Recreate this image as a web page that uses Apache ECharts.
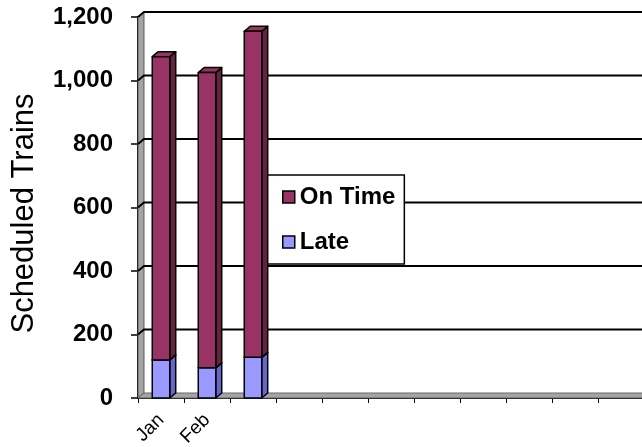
<!DOCTYPE html>
<html><head><meta charset="utf-8">
<script src="https://cdn.jsdelivr.net/npm/echarts@6/dist/echarts.min.js"></script>
<style>html,body{margin:0;padding:0;background:#fff}#c{width:642px;height:447px}</style>
</head><body><div id="c"></div>
<script>
const categories = ['Jan','Feb','','','','','','','','','',''];
const lateValues = [120, 95, 128];
const onTimeValues = [955, 930, 1027];
const yTicks = [0, 200, 400, 600, 800, 1000, 1200];
const seriesNames = ['On Time', 'Late'];

const FONT = '"Liberation Sans", Arial, sans-serif';
const yMax = yTicks[yTicks.length - 1];
const yStep = yTicks[1] - yTicks[0];

function renderWalls(params, api) {
  const cs = params.coordSys;
  const band = api.size([1, 0])[0];
  const dx = band * 0.13, dy = 5;
  const x0 = cs.x, x1 = cs.x + cs.width;
  const yBot = api.coord([0, 0])[1], yTop = api.coord([0, yMax])[1];
  const children = [];
  children.push({type: 'polygon', shape: {points: [[x0, yBot], [x0, yTop], [x0 + dx, yTop - dy], [x0 + dx, yBot - dy]]},
    style: {fill: '#a4a4a4', stroke: '#555', lineWidth: 1}});
  children.push({type: 'polygon', shape: {points: [[x0, yBot], [x0 + dx, yBot - dy], [x1 + dx, yBot - dy], [x1, yBot]]},
    style: {fill: '#a4a4a4', stroke: '#666', lineWidth: 1}});
  yTicks.forEach(function (v) {
    if (v === 0) return;
    const y = api.coord([0, v])[1];
    children.push({type: 'polyline', shape: {points: [[x0, y], [x0 + dx, y - dy], [x1 + dx, y - dy]]},
      style: {fill: null, stroke: '#000', lineWidth: 2}});
  });
  return {type: 'group', children: children};
}

function makeBarRenderer(front, side, top) {
  return function (params, api) {
    const i = api.value(0), b = api.value(1), t = api.value(2);
    const band = api.size([1, 0])[0];
    const w = band * 0.38, d = band * 0.13, dy = 5;
    const c = api.coord([i, b]), c2 = api.coord([i, t]);
    const xl = c[0] - w / 2, xr = c[0] + w / 2, y0 = c[1], y1 = c2[1];
    const st = {stroke: '#000', lineWidth: 1.5, lineJoin: 'round'};
    return {type: 'group', children: [
      {type: 'polygon', shape: {points: [[xr, y1], [xr + d, y1 - dy], [xr + d, y0 - dy], [xr, y0]]}, style: Object.assign({fill: side}, st)},
      {type: 'polygon', shape: {points: [[xl, y1], [xl + d, y1 - dy], [xr + d, y1 - dy], [xr, y1]]}, style: Object.assign({fill: top}, st)},
      {type: 'rect', shape: {x: xl, y: y1, width: w, height: y0 - y1}, style: Object.assign({fill: front}, st)}
    ]};
  };
}

const lateData = lateValues.map(function (v, i) { return [i, 0, v]; });
const onTimeData = onTimeValues.map(function (v, i) { return [i, lateValues[i], lateValues[i] + v]; });

const chart = echarts.init(document.getElementById('c'), null, {renderer: 'canvas'});
chart.setOption({
  animation: false,
  backgroundColor: '#fff',
  textStyle: {fontFamily: FONT},
  grid: {left: 138, top: 17, bottom: 49, width: 552, containLabel: false, outerBoundsMode: 'none'},
  xAxis: {
    type: 'category', data: categories, boundaryGap: true,
    axisLine: {show: true, lineStyle: {color: '#000', width: 2}},
    axisTick: {show: true, length: 5, interval: 0, lineStyle: {color: '#000', width: 1}},
    axisLabel: {interval: 0, rotate: 45, fontSize: 19, color: '#000', fontFamily: FONT, margin: 19},
    splitLine: {show: false}
  },
  yAxis: {
    type: 'value', min: 0, max: yMax, interval: yStep,
    name: 'Scheduled Trains', nameLocation: 'middle', nameGap: 98,
    nameTextStyle: {fontSize: 31, color: '#000', fontFamily: FONT, padding: [0, 12, 0, 0]},
    axisLine: {show: true, lineStyle: {color: '#000', width: 2}},
    axisTick: {show: true, length: 7, lineStyle: {color: '#000', width: 1.5}},
    axisLabel: {fontSize: 24, fontWeight: 'bold', color: '#000', fontFamily: FONT, margin: 25,
      formatter: function (v) { return v.toLocaleString('en-US'); }},
    splitLine: {show: false}
  },
  legend: {
    orient: 'vertical', left: 264, top: 175,
    padding: [10, 9, 10, 18], itemGap: 21, itemWidth: 12, itemHeight: 12,
    backgroundColor: '#fff', borderColor: '#000', borderWidth: 1.5, borderRadius: 0,
    textStyle: {fontSize: 24, fontWeight: 'bold', color: '#000', fontFamily: FONT},
    icon: 'rect',
    data: [
      {name: seriesNames[0], itemStyle: {color: '#993366', borderColor: '#000', borderWidth: 1.5}},
      {name: seriesNames[1], itemStyle: {color: '#9999ff', borderColor: '#000', borderWidth: 1.5}}
    ]
  },
  series: [
    {type: 'custom', name: 'walls', silent: true, z: 1, data: [[0, 0]], renderItem: renderWalls},
    {type: 'custom', name: seriesNames[1], z: 3, itemStyle: {color: '#9999ff'},
      encode: {x: 0, y: [1, 2]}, data: lateData, renderItem: makeBarRenderer('#9999ff', '#6666cc', '#b3b3ff')},
    {type: 'custom', name: seriesNames[0], z: 4, itemStyle: {color: '#993366'},
      encode: {x: 0, y: [1, 2]}, data: onTimeData, renderItem: makeBarRenderer('#993366', '#66223f', '#993366')}
  ]
});
</script></body></html>
